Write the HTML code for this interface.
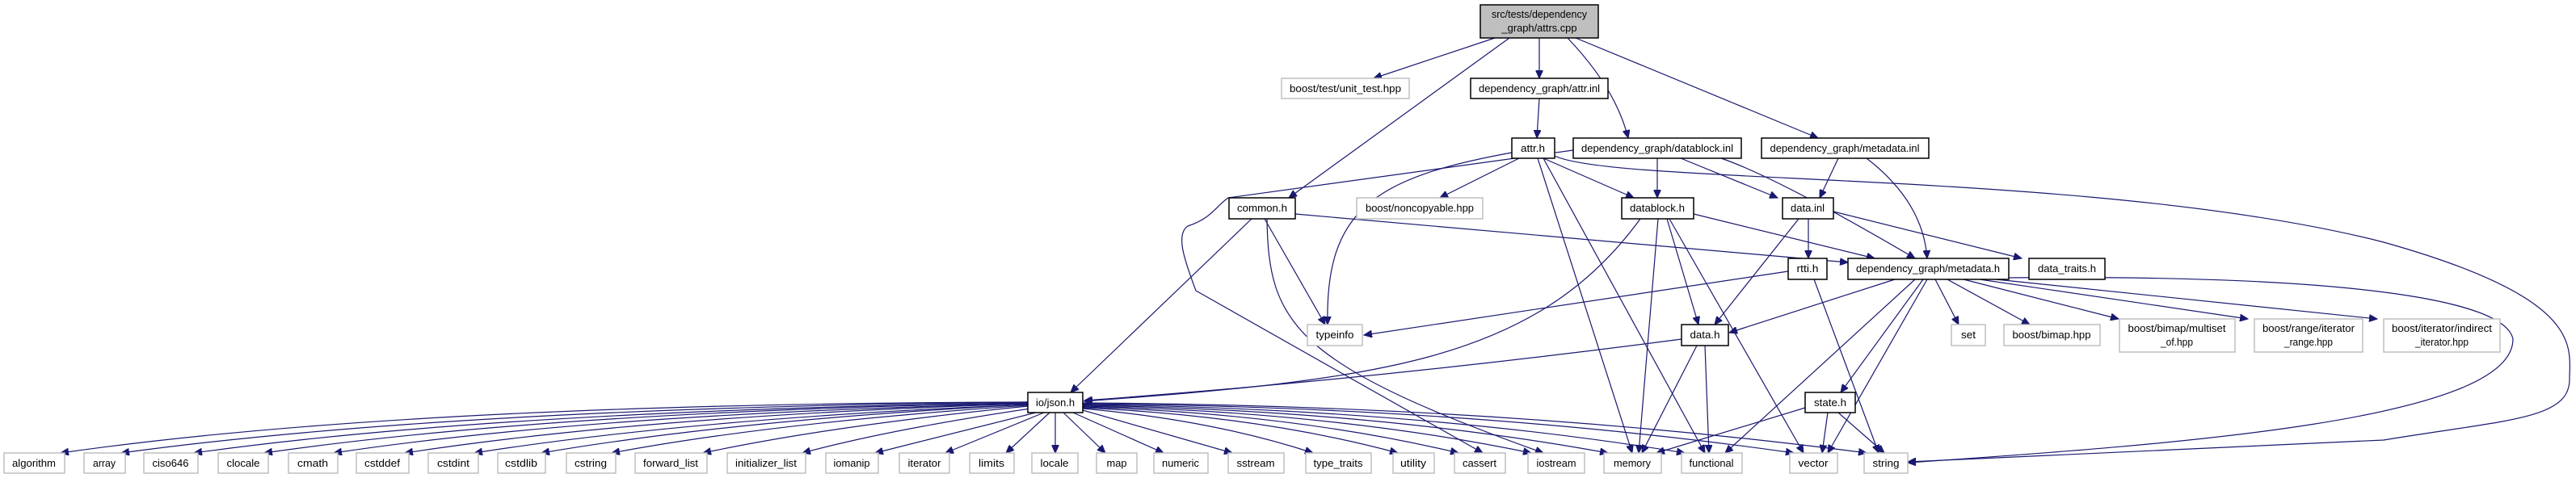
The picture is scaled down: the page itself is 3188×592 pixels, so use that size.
<!DOCTYPE html>
<html><head><meta charset="utf-8"><style>
html,body{margin:0;padding:0;background:#fff;}
svg{display:block;}
text{font-family:"Liberation Sans",sans-serif;font-size:13px;fill:#000;}
.g{fill:#fff;stroke:#bfbfbf;stroke-width:1.5;}
.b{fill:#fff;stroke:#000;stroke-width:1.5;}
.e{fill:none;stroke:#191970;stroke-width:1.2;}
</style></head><body>
<svg width="3188" height="592" viewBox="0 0 3188 592" xmlns="http://www.w3.org/2000/svg">
<defs><marker id="a" markerUnits="userSpaceOnUse" markerWidth="11" markerHeight="9" refX="10" refY="4.5" orient="auto"><path d="M0,0 L10,4.5 L0,9 z" fill="#191970" stroke="#191970"/></marker></defs>
<g class="e" marker-end="url(#a)">
<!-- top -->
<path d="M1850,47 L1700,97"/>
<path d="M1868,47 L1595,245"/>
<path d="M1905,47 L1905,97"/>
<path d="M1940,47 Q2000,110 2015,171"/>
<path d="M1950,47 L2250,171"/>
<path d="M1905,122 L1902,171"/>
<!-- attr.h -->
<path d="M1871,189 C1700,220 1640,260 1643,402"/>
<path d="M1880,196 L1782,245"/>
<path d="M1910,196 L2022,245"/>
<path d="M1903,196 L2020,561"/>
<path d="M1910,196 L2110,561"/>
<path d="M1924,193 C2000,230 2600,210 2950,300 C3200,370 3180,430 3180,470 C3180,520 3100,520 2950,545 L2361,572"/>
<!-- datablock.inl -->
<path d="M1947,186 L1520,245 C1505,255 1500,270 1470,280 C1455,290 1465,320 1480,360 L1835,561"/>
<path d="M2051,196 L2051,245"/>
<path d="M2080,196 L2200,245"/>
<path d="M2130,196 Q2200,220 2370,320"/>
<!-- metadata.inl -->
<path d="M2275,196 L2252,245"/>
<path d="M2310,196 Q2380,250 2385,320"/>
<!-- common.h -->
<path d="M1549,271 L1325,486"/>
<path d="M1565,271 L1640,402"/>
<path d="M1568,271 C1570,400 1600,450 1910,561"/>
<path d="M1603,265 L2287,325"/>
<!-- datablock.h -->
<path d="M2030,271 C1900,450 1700,470 1342,497"/>
<path d="M2096,265 L2320,320"/>
<path d="M2063,271 L2102,402"/>
<path d="M2052,271 L2028,561"/>
<path d="M2066,271 L2232,561"/>
<!-- data.inl -->
<path d="M2238,271 L2238,320"/>
<path d="M2226,271 L2122,402"/>
<path d="M2269,262 L2502,320"/>
<!-- rtti.h -->
<path d="M2213,336 L1688,415"/>
<path d="M2245,346 L2325,561"/>
<!-- metadata.h -->
<path d="M2345,346 L2140,412"/>
<path d="M2370,346 L2135,561"/>
<path d="M2380,346 L2278,486"/>
<path d="M2385,346 L2262,561"/>
<path d="M2395,346 L2424,402"/>
<path d="M2410,346 L2512,402"/>
<path d="M2430,346 L2622,395"/>
<path d="M2450,346 L2782,395"/>
<path d="M2470,346 L2942,395"/>
<path d="M2486,344 C2900,340 3100,370 3110,420 C3110,520 2700,550 2361,573"/>
<!-- data.h -->
<path d="M2081,420 Q1700,470 1342,496"/>
<path d="M2100,428 L2032,561"/>
<path d="M2110,428 L2115,561"/>
<!-- state.h -->
<path d="M2234,505 L2050,561"/>
<path d="M2262,511 L2255,561"/>
<path d="M2275,511 L2332,561"/>
<!-- json.h -->
<path d="M1272,498 Q500,500 75,561"/>
<path d="M1272,498 Q560,505 150,561"/>
<path d="M1272,499 Q620,508 240,561"/>
<path d="M1272,499 Q680,510 327,561"/>
<path d="M1272,500 Q740,512 413,561"/>
<path d="M1272,500 Q800,515 501,561"/>
<path d="M1272,501 Q860,518 587,561"/>
<path d="M1272,501 Q910,520 670,561"/>
<path d="M1272,502 Q960,523 757,561"/>
<path d="M1272,503 Q1030,527 870,561"/>
<path d="M1275,506 Q1100,532 993,561"/>
<path d="M1282,511 L1083,561"/>
<path d="M1292,511 L1170,561"/>
<path d="M1299,511 L1245,561"/>
<path d="M1306,511 L1306,561"/>
<path d="M1316,511 L1368,561"/>
<path d="M1328,511 L1440,561"/>
<path d="M1340,508 L1525,561"/>
<path d="M1340,506 Q1500,520 1625,561"/>
<path d="M1340,505 Q1560,515 1730,561"/>
<path d="M1340,504 Q1600,512 1805,561"/>
<path d="M1340,503 Q1650,510 1895,561"/>
<path d="M1340,502 Q1700,508 1990,561"/>
<path d="M1340,501 Q1750,506 2085,561"/>
<path d="M1340,500 Q1820,504 2220,561"/>
<path d="M1340,499 Q1860,502 2310,561"/>
</g>
<!-- nodes -->
<rect x="1832" y="6" width="146" height="41" fill="#bfbfbf" stroke="#000" stroke-width="1.5"/>
<text x="1905" y="22" text-anchor="middle" textLength="118" lengthAdjust="spacingAndGlyphs">src/tests/dependency</text>
<text x="1905" y="39" text-anchor="middle" textLength="93" lengthAdjust="spacingAndGlyphs">_graph/attrs.cpp</text>
<g>
<rect class="g" x="1586" y="97" width="158" height="25"/><text x="1665" y="114" text-anchor="middle" textLength="138" lengthAdjust="spacingAndGlyphs">boost/test/unit_test.hpp</text>
<rect class="b" x="1820" y="97" width="170" height="25"/><text x="1905" y="114" text-anchor="middle" textLength="150" lengthAdjust="spacingAndGlyphs">dependency_graph/attr.inl</text>
<rect class="b" x="1871" y="171" width="53" height="25"/><text x="1897" y="188" text-anchor="middle" textLength="30" lengthAdjust="spacingAndGlyphs">attr.h</text>
<rect class="b" x="1947" y="171" width="208" height="25"/><text x="2051" y="188" text-anchor="middle" textLength="188" lengthAdjust="spacingAndGlyphs">dependency_graph/datablock.inl</text>
<rect class="b" x="2180" y="171" width="207" height="25"/><text x="2283" y="188" text-anchor="middle" textLength="185" lengthAdjust="spacingAndGlyphs">dependency_graph/metadata.inl</text>
<rect class="b" x="1521" y="245" width="82" height="26"/><text x="1562" y="262" text-anchor="middle" textLength="62" lengthAdjust="spacingAndGlyphs">common.h</text>
<rect class="g" x="1679" y="245" width="156" height="26"/><text x="1757" y="262" text-anchor="middle" textLength="134" lengthAdjust="spacingAndGlyphs">boost/noncopyable.hpp</text>
<rect class="b" x="2007" y="245" width="89" height="26"/><text x="2051" y="262" text-anchor="middle" textLength="68" lengthAdjust="spacingAndGlyphs">datablock.h</text>
<rect class="b" x="2206" y="245" width="63" height="26"/><text x="2237" y="262" text-anchor="middle" textLength="42" lengthAdjust="spacingAndGlyphs">data.inl</text>
<rect class="b" x="2213" y="320" width="48" height="26"/><text x="2237" y="337" text-anchor="middle" textLength="27" lengthAdjust="spacingAndGlyphs">rtti.h</text>
<rect class="b" x="2287" y="320" width="199" height="26"/><text x="2386" y="337" text-anchor="middle" textLength="178" lengthAdjust="spacingAndGlyphs">dependency_graph/metadata.h</text>
<rect class="b" x="2511" y="320" width="94" height="26"/><text x="2558" y="337" text-anchor="middle" textLength="72" lengthAdjust="spacingAndGlyphs">data_traits.h</text>
<rect class="g" x="1618" y="402" width="68" height="26"/><text x="1652" y="419" text-anchor="middle" textLength="47" lengthAdjust="spacingAndGlyphs">typeinfo</text>
<rect class="b" x="2081" y="402" width="58" height="26"/><text x="2110" y="419" text-anchor="middle" textLength="37" lengthAdjust="spacingAndGlyphs">data.h</text>
<rect class="g" x="2415" y="402" width="42" height="26"/><text x="2436" y="419" text-anchor="middle" textLength="18" lengthAdjust="spacingAndGlyphs">set</text>
<rect class="g" x="2480" y="402" width="119" height="26"/><text x="2539" y="419" text-anchor="middle" textLength="97" lengthAdjust="spacingAndGlyphs">boost/bimap.hpp</text>
<rect class="g" x="2623" y="395" width="143" height="41"/><text x="2694" y="411" text-anchor="middle" textLength="121" lengthAdjust="spacingAndGlyphs">boost/bimap/multiset</text><text x="2694" y="428" text-anchor="middle" textLength="40" lengthAdjust="spacingAndGlyphs">_of.hpp</text>
<rect class="g" x="2790" y="395" width="134" height="41"/><text x="2857" y="411" text-anchor="middle" textLength="114" lengthAdjust="spacingAndGlyphs">boost/range/iterator</text><text x="2857" y="428" text-anchor="middle" textLength="60" lengthAdjust="spacingAndGlyphs">_range.hpp</text>
<rect class="g" x="2950" y="395" width="144" height="41"/><text x="3022" y="411" text-anchor="middle" textLength="124" lengthAdjust="spacingAndGlyphs">boost/iterator/indirect</text><text x="3022" y="428" text-anchor="middle" textLength="66" lengthAdjust="spacingAndGlyphs">_iterator.hpp</text>
<rect class="b" x="2234" y="486" width="62" height="25"/><text x="2265" y="503" text-anchor="middle" textLength="40" lengthAdjust="spacingAndGlyphs">state.h</text>
<rect class="b" x="1272" y="486" width="68" height="25"/><text x="1306" y="503" text-anchor="middle" textLength="48" lengthAdjust="spacingAndGlyphs">io/json.h</text>
</g>
<g>
<rect class="g" x="5" y="561" width="75" height="25"/><text x="42" y="578" text-anchor="middle" textLength="54" lengthAdjust="spacingAndGlyphs">algorithm</text>
<rect class="g" x="104" y="561" width="51" height="25"/><text x="129" y="578" text-anchor="middle" textLength="28" lengthAdjust="spacingAndGlyphs">array</text>
<rect class="g" x="178" y="561" width="67" height="25"/><text x="211" y="578" text-anchor="middle" textLength="45" lengthAdjust="spacingAndGlyphs">ciso646</text>
<rect class="g" x="270" y="561" width="62" height="25"/><text x="301" y="578" text-anchor="middle" textLength="41" lengthAdjust="spacingAndGlyphs">clocale</text>
<rect class="g" x="357" y="561" width="61" height="25"/><text x="387" y="578" text-anchor="middle" textLength="38" lengthAdjust="spacingAndGlyphs">cmath</text>
<rect class="g" x="441" y="561" width="65" height="25"/><text x="473" y="578" text-anchor="middle" textLength="44" lengthAdjust="spacingAndGlyphs">cstddef</text>
<rect class="g" x="530" y="561" width="62" height="25"/><text x="561" y="578" text-anchor="middle" textLength="40" lengthAdjust="spacingAndGlyphs">cstdint</text>
<rect class="g" x="616" y="561" width="59" height="25"/><text x="645" y="578" text-anchor="middle" textLength="40" lengthAdjust="spacingAndGlyphs">cstdlib</text>
<rect class="g" x="701" y="561" width="61" height="25"/><text x="731" y="578" text-anchor="middle" textLength="40" lengthAdjust="spacingAndGlyphs">cstring</text>
<rect class="g" x="786" y="561" width="89" height="25"/><text x="830" y="578" text-anchor="middle" textLength="68" lengthAdjust="spacingAndGlyphs">forward_list</text>
<rect class="g" x="900" y="561" width="97" height="25"/><text x="948" y="578" text-anchor="middle" textLength="76" lengthAdjust="spacingAndGlyphs">initializer_list</text>
<rect class="g" x="1022" y="561" width="65" height="25"/><text x="1054" y="578" text-anchor="middle" textLength="45" lengthAdjust="spacingAndGlyphs">iomanip</text>
<rect class="g" x="1113" y="561" width="62" height="25"/><text x="1144" y="578" text-anchor="middle" textLength="41" lengthAdjust="spacingAndGlyphs">iterator</text>
<rect class="g" x="1200" y="561" width="55" height="25"/><text x="1227" y="578" text-anchor="middle" textLength="32" lengthAdjust="spacingAndGlyphs">limits</text>
<rect class="g" x="1277" y="561" width="57" height="25"/><text x="1305" y="578" text-anchor="middle" textLength="35" lengthAdjust="spacingAndGlyphs">locale</text>
<rect class="g" x="1357" y="561" width="50" height="25"/><text x="1382" y="578" text-anchor="middle" textLength="25" lengthAdjust="spacingAndGlyphs">map</text>
<rect class="g" x="1428" y="561" width="67" height="25"/><text x="1461" y="578" text-anchor="middle" textLength="46" lengthAdjust="spacingAndGlyphs">numeric</text>
<rect class="g" x="1520" y="561" width="69" height="25"/><text x="1554" y="578" text-anchor="middle" textLength="47" lengthAdjust="spacingAndGlyphs">sstream</text>
<rect class="g" x="1616" y="561" width="81" height="25"/><text x="1656" y="578" text-anchor="middle" textLength="61" lengthAdjust="spacingAndGlyphs">type_traits</text>
<rect class="g" x="1724" y="561" width="51" height="25"/><text x="1749" y="578" text-anchor="middle" textLength="32" lengthAdjust="spacingAndGlyphs">utility</text>
<rect class="g" x="1800" y="561" width="63" height="25"/><text x="1831" y="578" text-anchor="middle" textLength="42" lengthAdjust="spacingAndGlyphs">cassert</text>
<rect class="g" x="1891" y="561" width="70" height="25"/><text x="1926" y="578" text-anchor="middle" textLength="49" lengthAdjust="spacingAndGlyphs">iostream</text>
<rect class="g" x="1985" y="561" width="71" height="25"/><text x="2020" y="578" text-anchor="middle" textLength="46" lengthAdjust="spacingAndGlyphs">memory</text>
<rect class="g" x="2081" y="561" width="75" height="25"/><text x="2118" y="578" text-anchor="middle" textLength="55" lengthAdjust="spacingAndGlyphs">functional</text>
<rect class="g" x="2215" y="561" width="59" height="25"/><text x="2244" y="578" text-anchor="middle" textLength="37" lengthAdjust="spacingAndGlyphs">vector</text>
<rect class="g" x="2307" y="561" width="54" height="25"/><text x="2334" y="578" text-anchor="middle" textLength="33" lengthAdjust="spacingAndGlyphs">string</text>
</g>
</svg>
</body></html>
